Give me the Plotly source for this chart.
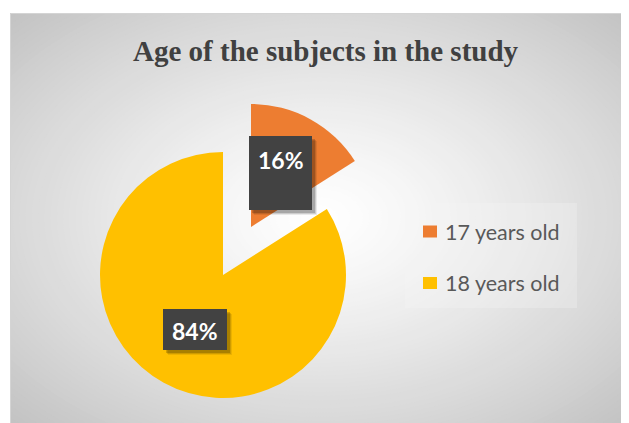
import plotly.graph_objects as go

# ---- data ----
categories = ["17 years old", "18 years old"]
values = [16, 84]
pct_labels = ["16%", "84%"]
colors = ["#ED7D31", "#FFC000"]
title_text = "Age of the subjects in the study"

W, H = 629, 423
OFF = 8  # page body margin offset


def px(x):
    return (x - OFF) / W


def py(y):
    return 1 - (y - OFF) / H


shapes = []

# ---- radial gradient background (frame from (10,13) to (629,423)) ----
fx0, fy0, fx1, fy1 = 10, 13, 629, 423
cx, cy = (fx0 + fx1) / 2, (fy0 + fy1) / 2
hw, hh = (fx1 - fx0) / 2, (fy1 - fy0) / 2
N = 70
for i in range(N):
    d = 1 - i / N
    rx, ry = hw * 1.4142 * d, hh * 1.4142 * d
    g = int(round(255 - 60 * d ** 1.25))
    shapes.append(dict(type="circle", xref="paper", yref="paper", layer="below",
                       x0=px(cx - rx), x1=px(cx + rx), y0=py(cy + ry), y1=py(cy - ry),
                       fillcolor=f"rgb({g},{g},{g})", line=dict(width=0)))
# white margins outside frame
shapes.append(dict(type="rect", xref="paper", yref="paper", layer="below",
                   x0=-0.5, x1=px(fx0), y0=-0.5, y1=1.5, fillcolor="white", line=dict(width=0)))
shapes.append(dict(type="rect", xref="paper", yref="paper", layer="below",
                   x0=-0.5, x1=1.5, y0=py(fy0), y1=1.5, fillcolor="white", line=dict(width=0)))
# frame border
shapes.append(dict(type="rect", xref="paper", yref="paper", layer="below",
                   x0=px(fx0 + 0.5), x1=px(fx1 + 20), y0=py(fy1 + 20), y1=py(fy0 + 0.5),
                   fillcolor="rgba(0,0,0,0)", line=dict(width=1, color="#d4d4d4")))
# legend box
shapes.append(dict(type="rect", xref="paper", yref="paper", layer="below",
                   x0=px(405), x1=px(577), y0=py(308), y1=py(203),
                   fillcolor="rgba(246,246,246,0.3)", line=dict(width=0)))

# ---- pies: yellow slice (in place) and orange slice (exploded) ----
r = 123
yc = (223, 275)
oc = (251, 227)


def dom(c):
    return dict(x=[px(c[0] - r), px(c[0] + r)], y=[py(c[1] + r), py(c[1] - r)])


fig = go.Figure()
fig.add_trace(go.Pie(labels=categories, values=values, sort=False, direction="clockwise",
                     rotation=0, textinfo="none", hoverinfo="label+percent",
                     marker=dict(colors=["rgba(0,0,0,0)", colors[1]], line=dict(width=0)),
                     domain=dom(yc), showlegend=False))
fig.add_trace(go.Pie(labels=categories, values=values, sort=False, direction="clockwise",
                     rotation=0, textinfo="none", hoverinfo="label+percent",
                     marker=dict(colors=[colors[0], "rgba(0,0,0,0)"], line=dict(width=0)),
                     domain=dom(oc), showlegend=False))

# ---- data label boxes (drawn above pies) ----
boxes = [(249, 136, 312, 210), (163, 309, 227, 350)]
label_pos = [(281, 160), (195, 331)]
for (x0, y0, x1, y1) in boxes:
    for k, a in [(5, 0.08), (4, 0.12), (3, 0.18)]:
        shapes.append(dict(type="rect", xref="paper", yref="paper", layer="above",
                           x0=px(x0 + k), x1=px(x1 + k), y0=py(y1 + k), y1=py(y0 + k),
                           fillcolor=f"rgba(0,0,0,{a})", line=dict(width=0)))
    shapes.append(dict(type="rect", xref="paper", yref="paper", layer="above",
                       x0=px(x0), x1=px(x1), y0=py(y1), y1=py(y0),
                       fillcolor="#424242", line=dict(width=0)))

annotations = []
for t, (x, y) in zip(pct_labels, label_pos):
    annotations.append(dict(text=f"<b>{t}</b>", x=px(x), y=py(y), xref="paper", yref="paper",
                            showarrow=False, xanchor="center", yanchor="middle",
                            font=dict(family="Lato", size=23, color="white")))

# ---- title ----
annotations.append(dict(text=f"<b>{title_text}</b>", x=px(326), y=py(51), xref="paper", yref="paper",
                        showarrow=False, xanchor="center", yanchor="middle",
                        font=dict(family="Liberation Serif", size=29, color="#404040")))

# ---- manual legend ----
leg_y = [231.5, 283]
for c, lab, yy in zip(colors, categories, leg_y):
    shapes.append(dict(type="rect", xref="paper", yref="paper", layer="above",
                       x0=px(423), x1=px(437), y0=py(yy + 6), y1=py(yy - 6),
                       fillcolor=c, line=dict(width=0)))
    annotations.append(dict(text=lab, x=px(443), y=py(yy), xref="paper", yref="paper",
                            showarrow=False, xanchor="left", yanchor="middle",
                            font=dict(family="Lato", size=21.5, color="#595959")))

fig.update_layout(width=W, height=H, margin=dict(l=0, r=0, t=0, b=0),
                  paper_bgcolor="white", plot_bgcolor="white",
                  shapes=shapes, annotations=annotations, showlegend=False)

fig.write_html("out.html")
